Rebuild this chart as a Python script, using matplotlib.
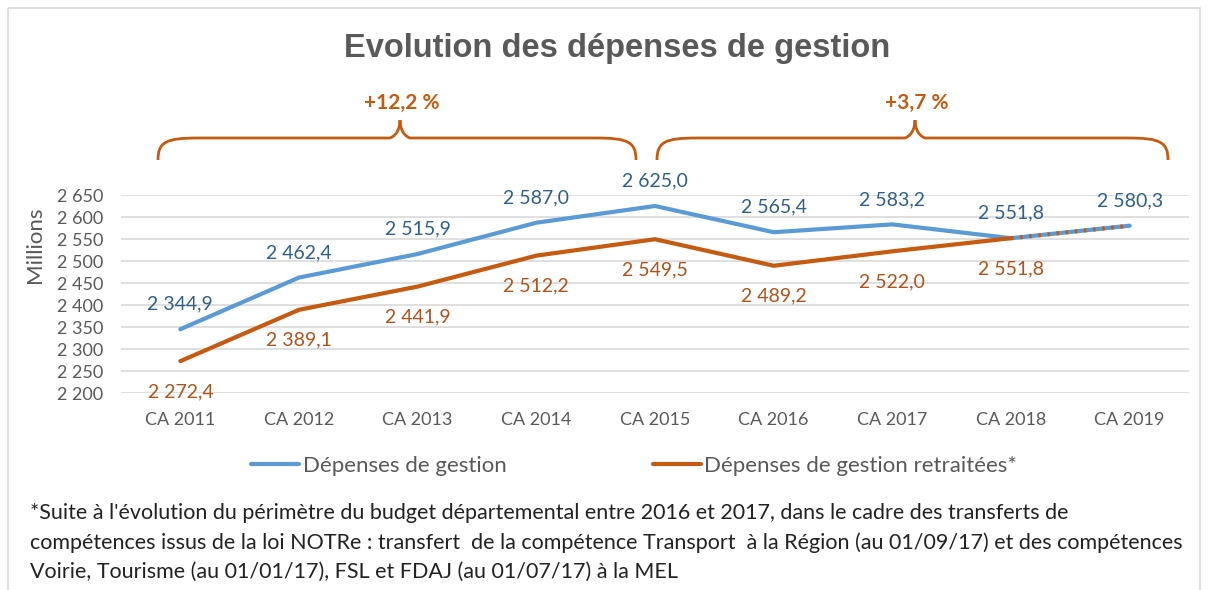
import matplotlib.pyplot as plt
from matplotlib.path import Path
from matplotlib.patches import PathPatch, Rectangle

categories = ['CA 2011', 'CA 2012', 'CA 2013', 'CA 2014', 'CA 2015',
              'CA 2016', 'CA 2017', 'CA 2018', 'CA 2019']
depenses = [2344.9, 2462.4, 2515.9, 2587.0, 2625.0, 2565.4, 2583.2, 2551.8, 2580.3]
retraitees = [2272.4, 2389.1, 2441.9, 2512.2, 2549.5, 2489.2, 2522.0, 2551.8, 2580.3]
yticks = [2200, 2250, 2300, 2350, 2400, 2450, 2500, 2550, 2600, 2650]
evolutions = ['+12,2 %', '+3,7 %']

BLUE = '#5B9BD5'
BLUE_TXT = '#2E5F8C'
ORANGE = '#C55A11'
ORANGE_TXT = '#B0531A'
GRAY = '#595959'
FONT = ['Lato', 'DejaVu Sans']


def fr(v, dec=1):
    s = '{:,.{d}f}'.format(v, d=dec)
    return s.replace(',', ' ').replace('.', ',')


fig = plt.figure(figsize=(12.08, 5.9), dpi=100)
fig.patch.set_facecolor('white')

ax = fig.add_axes([121 / 1208, 1 - 393 / 590, (1189 - 121) / 1208, (393 - 195) / 590])
x = list(range(len(categories)))

ax.plot(x, depenses, color=BLUE, linewidth=3, solid_capstyle='round', zorder=3,
        label='Dépenses de gestion')
ax.plot(x[:-1], retraitees[:-1], color=ORANGE, linewidth=3, solid_capstyle='round', zorder=4,
        label='Dépenses de gestion retraitées*')
# last segment: dotted orange over the blue line
ax.plot(x[-2:], retraitees[-2:], color=ORANGE, linewidth=3, linestyle=(0, (0.6, 1.6)),
        zorder=5)

for i, v in enumerate(depenses):
    ax.annotate(fr(v), (i, v), xytext=(0, 18), textcoords='offset points', ha='center',
                va='center', fontsize=14, color=BLUE_TXT, family=FONT)
for i, v in enumerate(retraitees[:-1]):
    ax.annotate(fr(v), (i, v), xytext=(0, -22), textcoords='offset points', ha='center',
                va='center', fontsize=14, color=ORANGE_TXT, family=FONT)

ax.set_xlim(-0.5, len(categories) - 0.5)
ax.set_ylim(2200, 2650)
ax.set_yticks(yticks)
ax.set_yticklabels([fr(t, 0) for t in yticks], family=FONT, fontsize=13, color=GRAY)
ax.set_xticks(x)
ax.set_xticklabels(categories, family=FONT, fontsize=13, color=GRAY)
ax.tick_params(length=0)
ax.tick_params(axis='y', pad=13)
ax.tick_params(axis='x', pad=14)
ax.grid(axis='y', color='#D9D9D9', linewidth=1.2)
ax.set_axisbelow(True)
for s in ax.spines.values():
    s.set_visible(False)
ax.set_ylabel('Millions', family=FONT, fontsize=16, color=GRAY)
ax.yaxis.set_label_coords(-0.071, 0.75)

leg = fig.legend(loc='center', bbox_to_anchor=(0.525, 1 - 466 / 590), ncol=2, frameon=False,
                 prop={'family': FONT, 'size': 16}, handlelength=2.16, handletextpad=0.15,
                 columnspacing=6.6)
for t in leg.get_texts():
    t.set_color(GRAY)

# overlay in pixel coordinates for title, braces and footnote
ov = fig.add_axes([0, 0, 1, 1], zorder=-1)
ov.set_xlim(0, 1208)
ov.set_ylim(590, 0)
ov.axis('off')
ov.add_patch(Rectangle((8, 8), 1192, 600, fill=False, edgecolor='#D9D9D9', linewidth=1.2))

ov.text(617, 48, 'Evolution des dépenses de gestion', ha='center', va='center',
        fontsize=23.5, fontweight='bold', color=GRAY, family=['Liberation Sans', 'DejaVu Sans'])


def brace(x0, x1, xm, ybot=160, ymid=138, ytop=120):
    verts = [(x0, ybot), (x0, ymid + 4), (x0 + 8, ymid), (x0 + 40, ymid),
             (xm - 24, ymid), (xm - 24, ymid), (xm - 10, ymid),
             (xm - 2, ymid - 3), (xm, ytop + 6), (xm, ytop),
             (xm, ytop + 6), (xm + 2, ymid - 3), (xm + 10, ymid),
             (xm + 24, ymid), (xm + 24, ymid), (x1 - 40, ymid),
             (x1 - 8, ymid), (x1, ymid + 4), (x1, ybot)]
    codes = [Path.MOVETO, Path.CURVE4, Path.CURVE4, Path.CURVE4,
             Path.LINETO, Path.LINETO, Path.LINETO,
             Path.CURVE4, Path.CURVE4, Path.CURVE4,
             Path.CURVE4, Path.CURVE4, Path.CURVE4,
             Path.LINETO, Path.LINETO, Path.LINETO,
             Path.CURVE4, Path.CURVE4, Path.CURVE4]
    ov.add_patch(PathPatch(Path(verts, codes), fill=False, edgecolor=ORANGE, linewidth=2))


brace(158, 636, 400)
brace(657, 1168, 915)
ov.text(402, 103, evolutions[0], ha='center', va='center', fontsize=15, fontweight='bold',
        color=ORANGE, family=FONT)
ov.text(917, 103, evolutions[1], ha='center', va='center', fontsize=15, fontweight='bold',
        color=ORANGE, family=FONT)

footnote = ["*Suite à l'évolution du périmètre du budget départemental entre 2016 et 2017, dans le cadre des transferts de",
            "compétences issus de la loi NOTRe : transfert  de la compétence Transport  à la Région (au 01/09/17) et des compétences",
            "Voirie, Tourisme (au 01/01/17), FSL et FDAJ (au 01/07/17) à la MEL"]
for k, line in enumerate(footnote):
    ov.text(30, 513 + 29.5 * k, line, ha='left', va='center', fontsize=15.5, color='#222222',
            family=FONT)

fig.savefig('out.png', dpi=100)
